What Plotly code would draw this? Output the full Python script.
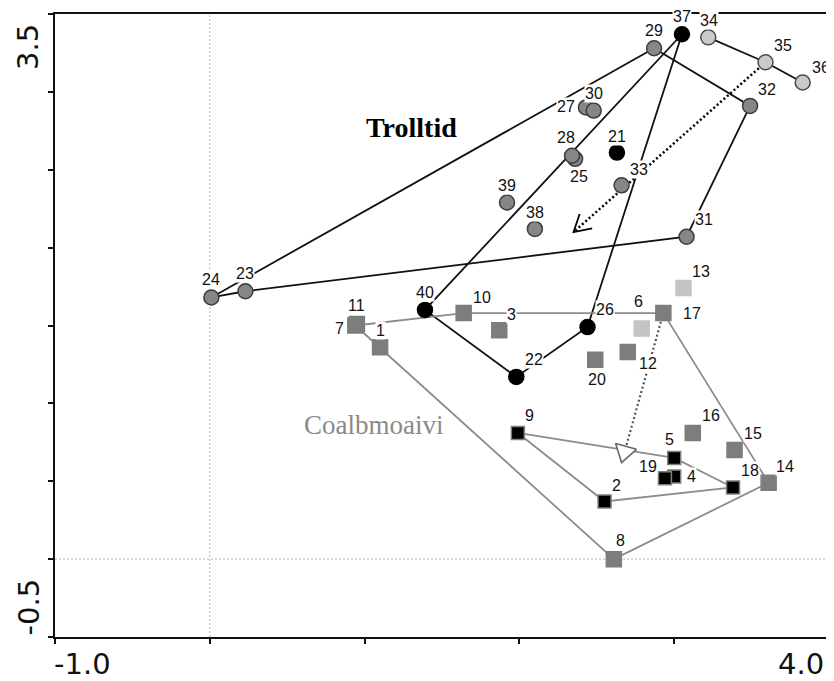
import math
import plotly.graph_objects as go

# ---------------- data ----------------
troll_ids = [21, 22, 23, 24, 25, 26, 27, 28, 29, 30, 31, 32, 33, 34, 35, 36, 37, 38, 39, 40]
troll_x = [2.63, 1.98, 0.23, 0.01, 2.36, 2.44, 2.43, 2.34, 2.87, 2.48, 3.08, 3.49, 2.66, 3.22, 3.59, 3.83, 3.05, 2.10, 1.92, 1.39]
troll_y = [2.61, 1.17, 1.72, 1.68, 2.57, 1.49, 2.90, 2.59, 3.28, 2.88, 2.07, 2.91, 2.40, 3.35, 3.19, 3.06, 3.37, 2.12, 2.29, 1.60]
troll_tone = ["black", "black", "gray", "gray", "gray", "black", "gray", "gray", "gray", "gray",
              "gray", "gray", "gray", "light", "light", "light", "black", "gray", "gray", "black"]

coal_ids = [1, 2, 3, 4, 5, 6, 7, 8, 9, 10, 11, 12, 13, 14, 15, 16, 17, 18, 19, 20]
coal_x = [1.10, 2.55, 1.87, 3.00, 3.00, 2.79, 0.94, 2.61, 1.99, 1.64, 0.95, 2.70, 3.06, 3.61, 3.39, 3.12, 2.93, 3.38, 2.94, 2.49]
coal_y = [1.36, 0.37, 1.47, 0.53, 0.65, 1.48, 1.50, 0.00, 0.81, 1.58, 1.51, 1.33, 1.74, 0.49, 0.70, 0.81, 1.58, 0.46, 0.52, 1.28]
coal_tone = ["gray", "black", "gray", "black", "black", "light", "gray", "gray", "black", "gray",
             "gray", "gray", "light", "gray", "gray", "gray", "gray", "black", "black", "gray"]

troll_outline_outer = [24, 29, 32, 31, 23, 24]
troll_outline_inner = [37, 40, 22, 26, 37]
troll_path_light = [34, 35, 36]
coal_outline_outer = [7, 10, 17, 14, 8, 1, 7]
coal_outline_inner = [9, 5, 18, 2, 9]

troll_arrow_from = 35
troll_arrow_to = [2.35, 2.10]
coal_arrow_from = 17
coal_arrow_to = [2.66, 0.62]

group_names = ["Trolltid", "Coalbmoaivi"]
group_name_x = [1.30, 1.06]
group_name_y = [2.77, 0.86]

x_range = [-1.0, 4.0]
y_range = [-0.5, 3.5]
x_tick_text = ["-1.0", "4.0"]
y_tick_text = ["3.5", "-0.5"]
y_minor_ticks = [-0.5, 0.0, 0.5, 1.0, 1.5, 2.0, 2.5, 3.0, 3.5]
x_minor_ticks = [-1, 0, 1, 2, 3, 4]

# ---------------- layout constants ----------------
# the page body adds an 8px margin, so the figure is sized to fit the window
W, H = 826, 673
ML, MR, MT, MB = 47, 3, 6, 44
PW, PH = W - ML - MR, H - MT - MB
SX = PW / (x_range[1] - x_range[0])
SY = PH / (y_range[1] - y_range[0])

# label offsets in pixels (dx right, dy down)
troll_label_off = {37: (0, -18), 34: (1, -17), 29: (0, -18), 35: (17, -17), 36: (18, -15),
                   32: (17, -16), 27: (-20, -1), 30: (0, -17), 28: (-6, -18), 25: (4, 18),
                   21: (0, -16), 33: (17, -16), 39: (0, -17), 38: (0, -16), 31: (17, -17),
                   24: (0, -18), 23: (0, -18), 40: (0, -17), 26: (17, -18), 22: (18, -17)}
coal_label_off = {11: (0, -18), 7: (-16, 3), 1: (0, -17), 10: (18, -16), 3: (12, -16),
                  6: (-3, -27), 17: (29, 0), 13: (18, -17), 20: (2, 20), 12: (20, 12),
                  9: (12, -17), 16: (18, -17), 15: (18, -17), 5: (-5, -18), 19: (-17, -12),
                  4: (17, 0), 18: (17, -17), 14: (16, -16), 2: (12, -16), 8: (7, -19)}

circle_style = {"black": ("#000000", "#000000"),
                "gray": ("#868686", "#3c3c3c"),
                "light": ("#cacaca", "#4a4a4a")}
square_style = {"black": ("#000000", "#808080", 13),
                "gray": ("#7d7d7d", "#7d7d7d", 15),
                "light": ("#c4c4c4", "#c4c4c4", 15)}


def to_px(x, y):
    return ((x - x_range[0]) * SX, (y_range[1] - y) * SY)


def from_px(px, py):
    return (px / SX + x_range[0], y_range[1] - py / SY)


def head_points(x0, y0, x1, y1, length, half_deg):
    p0 = to_px(x0, y0)
    p1 = to_px(x1, y1)
    dx, dy = p0[0] - p1[0], p0[1] - p1[1]
    n = math.hypot(dx, dy)
    ux, uy = dx / n, dy / n
    pts = []
    for s in (1, -1):
        a = math.radians(half_deg) * s
        rx = ux * math.cos(a) - uy * math.sin(a)
        ry = ux * math.sin(a) + uy * math.cos(a)
        pts.append(from_px(p1[0] + rx * length, p1[1] + ry * length))
    base = from_px(p1[0] + ux * length * math.cos(math.radians(half_deg)),
                   p1[1] + uy * length * math.cos(math.radians(half_deg)))
    return pts, base


tx = dict(zip(troll_ids, troll_x))
ty = dict(zip(troll_ids, troll_y))
cx = dict(zip(coal_ids, coal_x))
cy = dict(zip(coal_ids, coal_y))

fig = go.Figure()

# outlines
for seq in (troll_outline_outer, troll_outline_inner, troll_path_light):
    fig.add_trace(go.Scatter(x=[tx[i] for i in seq], y=[ty[i] for i in seq], mode="lines",
                             line=dict(color="#111111", width=1.8), hoverinfo="skip", showlegend=False))
for seq in (coal_outline_outer, coal_outline_inner):
    fig.add_trace(go.Scatter(x=[cx[i] for i in seq], y=[cy[i] for i in seq], mode="lines",
                             line=dict(color="#8c8c8c", width=1.8), hoverinfo="skip", showlegend=False))

# black dotted arrow (Trolltid)
bx0, by0 = tx[troll_arrow_from], ty[troll_arrow_from]
bx1, by1 = troll_arrow_to
fig.add_trace(go.Scatter(x=[bx0, bx1], y=[by0, by1], mode="lines",
                         line=dict(color="#000000", width=2.5, dash="2px,2.5px"),
                         hoverinfo="skip", showlegend=False))
(p_a, p_b), _ = head_points(bx0, by0, bx1, by1, 19, 30)
fig.add_trace(go.Scatter(x=[p_a[0], bx1, p_b[0]], y=[p_a[1], by1, p_b[1]], mode="lines",
                         line=dict(color="#000000", width=1.8), hoverinfo="skip", showlegend=False))

# gray dotted arrow (Coalbmoaivi)
gx0, gy0 = cx[coal_arrow_from], cy[coal_arrow_from]
gx1, gy1 = coal_arrow_to
(q_a, q_b), qbase = head_points(gx0, gy0, gx1, gy1, 20, 33)
fig.add_trace(go.Scatter(x=[gx0, qbase[0]], y=[gy0, qbase[1]], mode="lines",
                         line=dict(color="#555555", width=2.2, dash="2px,2.5px"),
                         hoverinfo="skip", showlegend=False))
fig.add_trace(go.Scatter(x=[q_a[0], gx1, q_b[0], q_a[0]], y=[q_a[1], gy1, q_b[1], q_a[1]], mode="lines",
                         fill="toself", fillcolor="white",
                         line=dict(color="#666666", width=1.6), hoverinfo="skip", showlegend=False))

# markers: squares
for tone in ("gray", "light", "black"):
    fill, edge, size = square_style[tone]
    ids = [i for i, t in zip(coal_ids, coal_tone) if t == tone]
    if tone == "black":
        ids = sorted(ids, key=lambda i: (i != 4, i))
    fig.add_trace(go.Scatter(x=[cx[i] for i in ids], y=[cy[i] for i in ids], mode="markers",
                             marker=dict(symbol="square", size=size, color=fill,
                                         line=dict(color=edge, width=1.5)),
                             hoverinfo="skip", showlegend=False))
# markers: circles
for tone in ("gray", "light", "black"):
    fill, edge = circle_style[tone]
    ids = [i for i, t in zip(troll_ids, troll_tone) if t == tone]
    fig.add_trace(go.Scatter(x=[tx[i] for i in ids], y=[ty[i] for i in ids], mode="markers",
                             marker=dict(symbol="circle", size=15, color=fill,
                                         line=dict(color=edge, width=1.5)),
                             hoverinfo="skip", showlegend=False))

annotations = []
label_font = dict(family="Liberation Sans, Arial, sans-serif", size=16, color="#111111")
for ids, xs, ys, offs in ((troll_ids, tx, ty, troll_label_off), (coal_ids, cx, cy, coal_label_off)):
    for i in ids:
        dx, dy = offs[i]
        annotations.append(dict(x=xs[i], y=ys[i], xref="x", yref="y", text=str(i), showarrow=False,
                                xshift=dx, yshift=-dy, font=label_font, bgcolor="white",
                                borderpad=0, xanchor="center", yanchor="middle"))

# group names
annotations.append(dict(x=group_name_x[0], y=group_name_y[0], xref="x", yref="y",
                        text="<b>" + group_names[0] + "</b>", showarrow=False,
                        font=dict(family="Liberation Serif, serif", size=28, color="#000000")))
annotations.append(dict(x=group_name_x[1], y=group_name_y[1], xref="x", yref="y", text=group_names[1],
                        showarrow=False, font=dict(family="Liberation Serif, serif", size=27, color="#8a8a8a")))

# axis end labels
axis_font = dict(family="DejaVu Sans, sans-serif", size=29, color="#111111")
annotations.append(dict(x=x_range[0], y=0, xref="x", yref="paper", text=x_tick_text[0], showarrow=False,
                        xanchor="left", yanchor="top", yshift=-8, xshift=-3, font=axis_font))
annotations.append(dict(x=x_range[1], y=0, xref="x", yref="paper", text=x_tick_text[1], showarrow=False,
                        xanchor="right", yanchor="top", yshift=-8, xshift=-3, font=axis_font))
annotations.append(dict(x=0, y=y_range[1], xref="paper", yref="y", text=y_tick_text[0], showarrow=False,
                        xanchor="right", yanchor="top", xshift=-8, yshift=-8, textangle=-90, font=axis_font))
annotations.append(dict(x=0, y=y_range[0], xref="paper", yref="y", text=y_tick_text[1], showarrow=False,
                        xanchor="right", yanchor="bottom", xshift=-8, yshift=0, textangle=-90, font=axis_font))

shapes = [
    dict(type="line", xref="x", yref="paper", x0=0, x1=0, y0=0, y1=1,
         line=dict(color="#b5b5b5", width=1, dash="2px,2px"), layer="below"),
    dict(type="line", xref="paper", yref="y", x0=0, x1=1, y0=0, y1=0,
         line=dict(color="#b5b5b5", width=1, dash="2px,2px"), layer="below"),
]

fig.update_layout(
    width=W, height=H,
    margin=dict(l=ML, r=MR, t=MT, b=MB),
    paper_bgcolor="white", plot_bgcolor="white",
    annotations=annotations, shapes=shapes,
    showlegend=False,
)
fig.update_xaxes(range=x_range, showgrid=False, zeroline=False, showline=True, linecolor="#111111",
                 linewidth=2, mirror=True, ticks="outside", ticklen=5, tickwidth=1.5, tickcolor="#111111",
                 tickvals=x_minor_ticks, showticklabels=False)
fig.update_yaxes(range=y_range, showgrid=False, zeroline=False, showline=True, linecolor="#111111",
                 linewidth=2, mirror=True, ticks="outside", ticklen=5, tickwidth=1.5, tickcolor="#111111",
                 tickvals=y_minor_ticks, showticklabels=False)

fig.write_html("out.html")
